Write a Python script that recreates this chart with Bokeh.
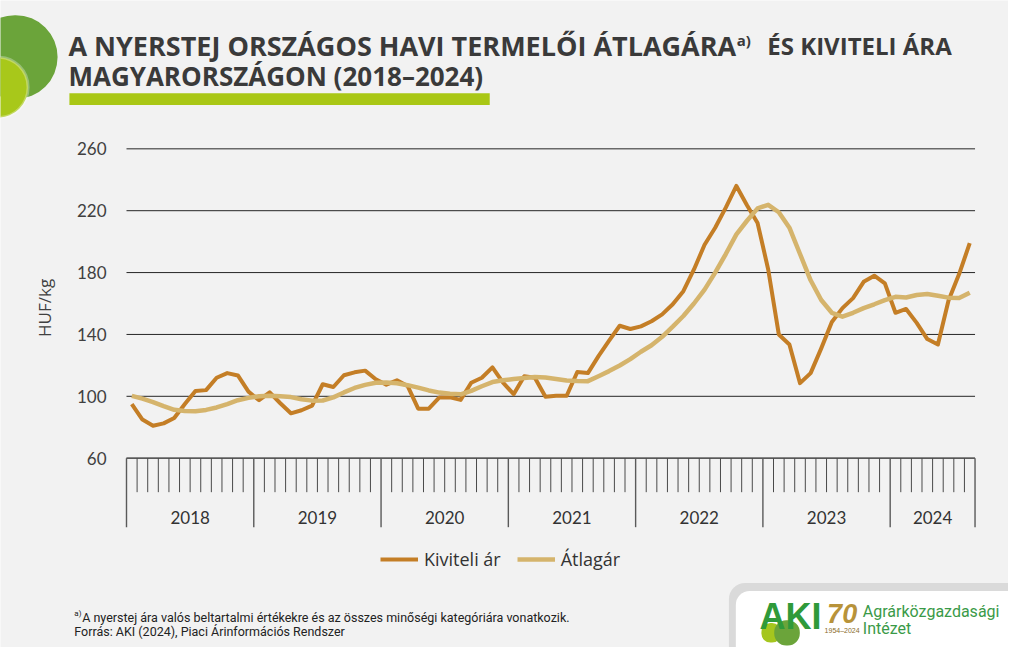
from math import pi
from bokeh.plotting import figure
from bokeh.models import Range1d, Label, Legend, LegendItem, BoxAnnotation
from bokeh.core.properties import value
from bokeh.embed import file_html
from bokeh.resources import INLINE

# ---------------- data ----------------
years = [2018, 2019, 2020, 2021, 2022, 2023, 2024]
months_per_year = [12, 12, 12, 12, 12, 12, 8]

kiviteli = [95, 85, 81, 82.5, 86, 95, 103.5, 104, 112, 115, 113.5, 103,
            97.5, 102.5, 95.5, 89, 91, 94, 107.8, 106, 113.6, 115.5, 116.6, 111,
            107.5, 110.3, 106.7, 92, 92, 99.3, 99.3, 97.7, 108.8, 112, 118.7, 108.8,
            101.4, 113, 112, 99.7, 100.4, 100.4, 115.7, 115, 126, 136, 145.6, 143.5,
            145.2, 148.5, 153, 159.5, 168, 182, 198, 209, 222, 236, 223.5, 212,
            182, 140, 133.5, 108.5, 115, 131, 148, 157, 163.5, 174, 178, 173,
            154, 156.5, 147.5, 137, 133.5, 162, 179, 199]

atlagar = [100.3, 98.5, 96.3, 93.7, 91.3, 90.5, 90.3, 91.2, 92.8, 95, 97.5, 99,
           100.1, 100.4, 100.1, 99.5, 98.1, 97.2, 97.3, 99.3, 102.5, 105.4, 107.4, 108.8,
           109, 108.5, 107.2, 105.6, 103.8, 102.4, 101.6, 101.3, 103.5, 106.5, 109.2, 110.4,
           111.2, 111.8, 112.5, 112.2, 111.2, 110.2, 109.9, 109.8, 113, 116.3, 119.9, 124,
           128.8, 133, 138.5, 145, 151.9, 160, 169, 180, 192, 204.7, 213.5, 221.5,
           223.8, 219, 209, 192, 175, 162.3, 154, 151.5, 154, 157, 159.5, 162.2,
           164.3, 163.9, 165.5, 166.2, 165, 163.8, 163.5, 167]

y_ticks = [60, 100, 140, 180, 220, 260]
y_tick_labels = [str(v) for v in y_ticks]

series_names = ["Kiviteli ár", "Átlagár"]

title_part1 = "A NYERSTEJ ORSZÁGOS HAVI TERMELŐI ÁTLAGÁRA"
title_sup = "a)"
title_part2 = "ÉS KIVITELI ÁRA"
title_line2 = "MAGYARORSZÁGON (2018–2024)"
note_sup = "a)"
note_line1 = "A nyerstej ára valós beltartalmi értékekre és az összes minőségi kategóriára vonatkozik."
note_line2 = "Forrás: AKI (2024), Piaci Árinformációs Rendszer"

# ---------------- layout helpers ----------------
W, H = 1008, 647
KX, KY = W / 1024, H / 663


def fx(x):
    return x * KX


def fy(y):          # reference y (from top) -> screen units (from bottom)
    return H - y * KY


n = len(kiviteli)
xs = [i + 0.5 for i in range(n)]
year_bounds = [0]
for m in months_per_year:
    year_bounds.append(year_bounds[-1] + m)
year_centers = [(a + b) / 2 for a, b in zip(year_bounds[:-1], year_bounds[1:])]
month_bounds = list(range(0, n + 1))
minor_bounds = [b for b in month_bounds if b not in year_bounds]

# plot area inside the page (reference pixels)
PX0, PX1 = fx(128), fx(990)
PY_TOP, PY_BOT = 152 * KY, 469 * KY   # pixel rows of 260 and 60
ppx = (PX1 - PX0) / n
ppy = (PY_BOT - PY_TOP) / (y_ticks[-1] - y_ticks[0])
x_range = Range1d(-PX0 / ppx, n + (W - PX1) / ppx)
y_range = Range1d(y_ticks[0] - (H - PY_BOT) / ppy, y_ticks[-1] + PY_TOP / ppy)

BG = "#f2f2f2"
TXT = "#3a3a3a"
C_KIV = "#c47e26"
C_ATL = "#d5b46c"
SCR = dict(left_units="screen", right_units="screen", top_units="screen", bottom_units="screen")

p = figure(width=W, height=H, output_backend="svg", toolbar_location=None,
           x_range=x_range, y_range=y_range,
           min_border=0, min_border_left=0, min_border_right=0, min_border_top=0, min_border_bottom=0)
p.background_fill_color = BG
p.border_fill_color = BG
p.outline_line_color = None
p.axis.visible = False
p.grid.visible = False


def box(l, t, r, b, **kw):
    p.add_layout(BoxAnnotation(left=fx(l), right=fx(r), top=fy(t), bottom=fy(b), **SCR, **kw))


def circle(cx, cy, rad, **kw):
    box(cx - rad, cy - rad, cx + rad, cy + rad, border_radius=int(rad * KX), **kw)


def lab(x, y, text, **kw):
    p.add_layout(Label(x=fx(x), y=fy(y), x_units="screen", y_units="screen", text=text, **kw))


# grid lines
p.segment(x0=[0] * len(y_ticks), x1=[n] * len(y_ticks), y0=y_ticks, y1=y_ticks,
          line_color="#262626", line_width=1)
# y tick labels
p.text(x=[0] * len(y_ticks), y=y_ticks, text=y_tick_labels, x_offset=-20,
       text_align="right", text_baseline="middle", text_font=value("Lato"),
       text_font_size="17px", text_color="#404040")
# x axis line and ticks
p.segment(x0=[0], x1=[n], y0=[y_ticks[0]], y1=[y_ticks[0]], line_color="#5a5a5a", line_width=1.4)
p.ray(x=minor_bounds, y=[y_ticks[0]] * len(minor_bounds), length=34, length_units="screen",
      angle=-pi / 2, line_color="#4a4a4a", line_width=1)
p.ray(x=year_bounds, y=[y_ticks[0]] * len(year_bounds), length=69, length_units="screen",
      angle=-pi / 2, line_color="#5a5a5a", line_width=1.4)
p.text(x=year_centers, y=[y_ticks[0]] * len(years), text=[str(v) for v in years], y_offset=59,
       text_align="center", text_baseline="middle", text_font=value("Lato"),
       text_font_size="17px", text_color="#333333")

# series
r1 = p.line(xs, kiviteli, line_color=C_KIV, line_width=4, line_join="round")
r2 = p.line(xs, atlagar, line_color=C_ATL, line_width=4.5, line_join="round")

legend = Legend(items=[LegendItem(label=series_names[0], renderers=[r1]),
                       LegendItem(label=series_names[1], renderers=[r2])],
                orientation="horizontal", location=(fx(386), fy(585)),
                glyph_width=38, glyph_height=22, label_standoff=6, spacing=16,
                padding=0, margin=0, border_line_color=None, background_fill_alpha=0,
                label_text_font="Open Sans", label_text_font_size="18px",
                label_text_color="#333333")
p.add_layout(legend)

# y axis title
lab(45, 315, "HUF/kg", angle=pi / 2, text_align="center", text_baseline="middle",
    text_font="Open Sans", text_font_size="17px", text_color="#404040")

# decorative circles top-left
circle(15, 58, 43, fill_color="#6ba43a", fill_alpha=1, line_color=None)
circle(-3, 89, 31, fill_color="#a8c81a", fill_alpha=1, line_color="white", line_width=3)

# title
tkw = dict(text_font="Open Sans", text_font_style="bold", text_color=TXT, text_baseline="middle")
lab(69, 46, title_part1, text_font_size="27px", **tkw)
lab(748, 40, title_sup, text_font_size="15px", **tkw)
lab(779, 46, title_part2, text_font_size="24px", **tkw)
lab(69, 77, title_line2, text_font_size="26px", **tkw)
box(70, 95, 497, 107, fill_color="#a9c715", fill_alpha=1, line_color=None)

# footnote
nkw = dict(text_font="Roboto", text_color="#222222", text_baseline="middle")
lab(75, 628, note_sup, text_font_size="8px", **nkw)
lab(83, 632, note_line1, text_font_size="12.5px", **nkw)
lab(75, 647, note_line2, text_font_size="12.5px", **nkw)

# logo panel
box(740, 597, 1030, 670, fill_color="#dadada", fill_alpha=1, line_color=None, border_radius=(16, 0, 0, 0))
box(747, 605, 1030, 670, fill_color="white", fill_alpha=1, line_color=None, border_radius=(14, 0, 0, 0))
circle(783, 648, 10, fill_color="#a5c61e", fill_alpha=1, line_color=None)
circle(799, 648, 13, fill_color="#6ba43a", fill_alpha=1, line_color=None)
lab(771, 631, "AKI", text_font="Liberation Sans", text_font_style="bold", text_font_size="36px",
    text_color="#2f9a3a", text_baseline="middle")
lab(855, 628, "70", text_font="Liberation Sans", text_font_style="bold italic", text_font_size="27px",
    text_color="#b8933a", text_baseline="middle", text_align="center")
lab(855, 646, "1954–2024", text_font="Liberation Sans", text_font_size="7px",
    text_color="#8a6d2a", text_baseline="middle", text_align="center")
lab(876, 626, "Agrárközgazdasági", text_font="Roboto", text_font_size="16px",
    text_color="#3a9a48", text_baseline="middle")
lab(876, 644, "Intézet", text_font="Roboto", text_font_size="16px",
    text_color="#3a9a48", text_baseline="middle")

open("out.html", "w").write(file_html(p, INLINE))
